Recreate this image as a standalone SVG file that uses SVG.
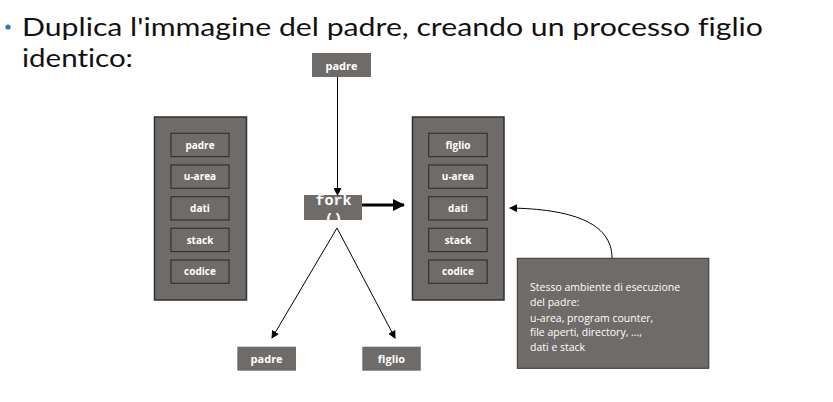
<svg xmlns="http://www.w3.org/2000/svg" width="833" height="402" viewBox="0 0 833 402">
<defs>
<style>
.box{fill:#6f6b69;}
.big{fill:#6f6b69;stroke:#2f2f2f;stroke-width:1.5;}
.cell{fill:#6f6b69;stroke:#333;stroke-width:1.2;}
.lbl{font-family:"Open Sans","Liberation Sans",sans-serif;font-size:10px;font-weight:bold;fill:#fff;text-anchor:middle;}
.lbl2{font-family:"Open Sans","Liberation Sans",sans-serif;font-size:11px;font-weight:bold;fill:#fff;text-anchor:middle;}
.cl{font-family:"Open Sans","Liberation Sans",sans-serif;font-size:10.5px;fill:#fff;}
.title{font-family:Lato,"Noto Sans",sans-serif;font-size:25px;fill:#111;font-variant-ligatures:none;}
.mono{font-family:"Liberation Mono",monospace;font-size:15px;font-weight:bold;fill:#fff;text-anchor:middle;}
.ln{stroke:#000;stroke-width:1;fill:none;}
</style>
<marker id="ah" markerWidth="8" markerHeight="8" refX="7" refY="4" orient="auto" markerUnits="userSpaceOnUse">
<path d="M0,0 L8,4 L0,8 z" fill="#000"/>
</marker>
<marker id="ahb" markerWidth="12" markerHeight="12" refX="11" refY="6" orient="auto" markerUnits="userSpaceOnUse">
<path d="M0,0 L12,6 L0,12 z" fill="#000"/>
</marker>
</defs>
<rect width="833" height="402" fill="#fff"/>
<g id="title">
<circle cx="8" cy="27" r="2.6" fill="#2e74c8"/>
<text class="title" x="22" y="36" textLength="741" lengthAdjust="spacingAndGlyphs">Duplica l'immagine del padre, creando un processo figlio</text>
<text class="title" x="22" y="67" textLength="111" lengthAdjust="spacingAndGlyphs">identico:</text>
</g>
<g id="connectors">
<line class="ln" x1="337.5" y1="77" x2="337.5" y2="195" marker-end="url(#ah)"/>
<line x1="362" y1="205" x2="404" y2="205" stroke="#000" stroke-width="3" marker-end="url(#ahb)"/>
<line class="ln" x1="337" y1="228" x2="272" y2="338" marker-end="url(#ah)"/>
<line class="ln" x1="337" y1="228" x2="395" y2="338" marker-end="url(#ah)"/>
<path class="ln" d="M612,258 C612,222 570,209 510,208" marker-end="url(#ah)"/>
</g>
<g id="padre-top">
<rect class="box" x="312" y="53" width="59" height="24"/>
<text class="lbl2" x="341.5" y="69.5">padre</text>
</g>
<g id="fork">
<rect class="box" x="304" y="195" width="58" height="25"/>
<text class="mono" x="333.5" y="204.5">fork</text>
<text class="mono" x="333.5" y="224">()</text>
<rect x="300" y="220.5" width="66" height="7" fill="#fff"/>
</g>
<g id="parent-image">
<rect class="big" x="154.5" y="117" width="92" height="183"/>
<rect class="cell" x="171" y="133.3" width="58" height="23.3"/>
<text class="lbl" x="200" y="148.5">padre</text>
<rect class="cell" x="171" y="165" width="58" height="23.3"/>
<text class="lbl" x="200" y="180.2">u-area</text>
<rect class="cell" x="171" y="196.7" width="58" height="23.3"/>
<text class="lbl" x="200" y="211.9">dati</text>
<rect class="cell" x="171" y="228.3" width="58" height="23.3"/>
<text class="lbl" x="200" y="243.5">stack</text>
<rect class="cell" x="171" y="260" width="58" height="23.3"/>
<text class="lbl" x="200" y="275.2">codice</text>
</g>
<g id="child-image">
<rect class="big" x="412.5" y="117" width="91.5" height="183"/>
<rect class="cell" x="428.7" y="133.3" width="58.5" height="23.3"/>
<text class="lbl" x="458" y="148.5">figlio</text>
<rect class="cell" x="428.7" y="165" width="58.5" height="23.3"/>
<text class="lbl" x="458" y="180.2">u-area</text>
<rect class="cell" x="428.7" y="196.7" width="58.5" height="23.3"/>
<text class="lbl" x="458" y="211.9">dati</text>
<rect class="cell" x="428.7" y="228.3" width="58.5" height="23.3"/>
<text class="lbl" x="458" y="243.5">stack</text>
<rect class="cell" x="428.7" y="260" width="58.5" height="23.3"/>
<text class="lbl" x="458" y="275.2">codice</text>
</g>
<g id="callout">
<rect x="517.3" y="258.3" width="191.5" height="110" fill="#6f6b69" stroke="#333" stroke-width="1"/>
<text class="cl" x="530" y="291">Stesso ambiente di esecuzione</text>
<text class="cl" x="530" y="306">del padre:</text>
<text class="cl" x="530" y="322">u-area, program counter,</text>
<text class="cl" x="530" y="336">file aperti, directory, …,</text>
<text class="cl" x="530" y="351">dati e stack</text>
</g>
<g id="padre-bottom">
<rect class="box" x="237.3" y="346.7" width="58.7" height="24"/>
<text class="lbl2" x="266.6" y="363">padre</text>
</g>
<g id="figlio-bottom">
<rect class="box" x="362.3" y="346.7" width="58.5" height="24"/>
<text class="lbl2" x="391.5" y="363">figlio</text>
</g>
</svg>
